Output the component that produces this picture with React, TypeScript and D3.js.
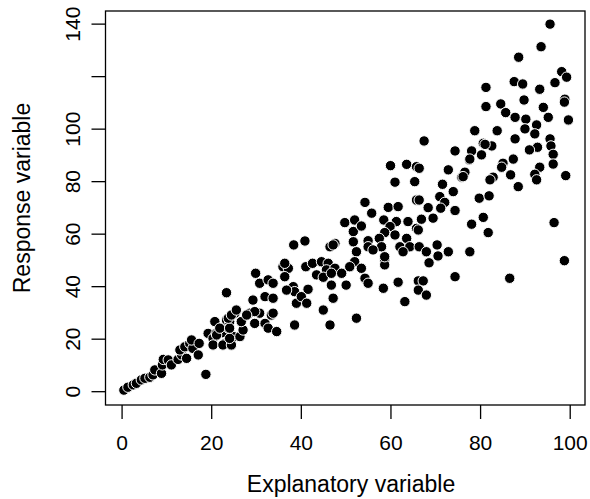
import React from "react";
import * as d3 from "d3";

// Explanatory (x) and response (y) values
const explanatory: number[] = [
  0.4, 1.3, 2.5, 3.2, 4.3, 5.1, 6.2, 6.9, 7.3, 8.8, 9.0, 9.2, 10.3, 11.0, 12.5, 13.3, 12.9, 14.4, 14.0, 15.1,
  15.8, 15.5, 17.0, 17.2, 18.7, 19.2, 20.3, 21.0, 22.4, 22.9, 23.7, 24.8, 23.3, 24.0, 25.2,
  20.3, 22.5, 24.4, 21.1, 24.0, 26.3, 20.7, 21.8, 24.0, 27.0, 26.6, 29.6, 31.9, 32.6, 34.5, 23.7, 24.4, 25.5,
  28.5, 30.7, 33.3, 29.2, 31.9, 33.7, 23.3, 29.8, 30.7, 32.6, 33.7, 35.9, 37.1, 36.3, 38.2, 38.5, 38.9, 38.5, 38.3,
  49.7, 51.9, 51.6, 51.6, 40.8, 47.5, 46.4, 52.3, 51.9, 36.3, 41.0, 42.5, 44.5, 46.0, 45.6, 47.5, 43.4, 44.9,
  46.7, 49.0, 50.8, 46.7, 50.0, 36.7, 41.5, 40.0, 41.2, 47.1, 44.9, 29.6, 33.7, 27.8, 46.4, 52.3,
  59.9, 63.5, 65.7, 60.9, 65.3, 54.2, 55.7, 59.4, 61.6, 65.7, 53.4, 58.4, 61.2, 63.8, 65.7, 59.8, 58.6, 60.9,
  63.5, 57.4, 54.9, 47.1, 54.9, 57.9, 62.0, 64.2, 56.0, 62.7, 58.6, 53.4, 58.6, 54.2, 54.9, 58.3, 61.6, 66.1, 63.1,
  81.2, 78.7, 67.4, 74.3, 78.0, 80.6, 80.2, 77.5, 66.3, 72.8, 76.5, 75.8, 71.5, 73.9, 70.9, 72.0, 66.3, 68.3,
  71.1, 74.3, 69.4, 66.8, 79.7, 80.6, 78.0, 81.7, 66.1, 66.3, 67.9, 70.3, 70.5, 72.8, 68.5, 58.6, 77.6, 74.3,
  67.2, 66.1, 67.9,
  95.5, 93.5, 88.5, 98.1, 99.2, 96.6, 87.5, 89.4, 93.2, 81.2, 84.5, 89.7, 94.0, 98.8, 98.7, 85.6, 87.7, 90.1,
  95.1, 99.6, 92.5, 89.9, 92.1, 83.7, 87.7, 95.5, 95.7, 96.2, 96.2, 92.7, 90.9, 93.2, 92.1, 92.5, 87.3, 85.0,
  84.7, 86.7, 88.4, 82.8, 82.1, 82.5, 81.0, 77.6, 76.1, 99.0, 81.9, 96.4, 98.7, 86.5,
];

const response: number[] = [
  0.6, 1.7, 2.6, 3.2, 4.5, 5.1, 5.5, 6.4, 8.3, 7.0, 10.2, 12.3, 12.1, 10.2, 12.3, 14.0, 15.9, 12.7, 17.1, 18.4,
  16.5, 19.7, 14.0, 18.4, 6.6, 22.2, 20.3, 22.2, 22.5, 18.4, 24.2, 21.0, 27.3, 26.7, 29.9,
  17.8, 17.8, 17.8, 21.6, 20.3, 21.0, 26.7, 24.2, 24.2, 23.5, 26.7, 26.0, 26.0, 24.2, 22.9, 28.0, 29.2, 31.1,
  29.9, 29.9, 29.2, 34.9, 36.2, 35.6, 37.7, 45.1, 41.3, 42.6, 41.3, 47.6, 47.0, 43.8, 40.0, 38.1, 33.7, 25.4, 55.9,
  64.4, 65.4, 61.0, 57.1, 57.4, 56.5, 55.2, 53.3, 49.5, 48.9, 47.6, 48.9, 49.5, 48.9, 46.4, 47.0, 44.5, 43.6,
  45.1, 45.1, 47.6, 40.6, 40.6, 38.7, 39.0, 36.2, 33.7, 35.6, 31.1, 30.5, 29.9, 29.2, 25.4, 28.0,
  86.1, 86.6, 85.7, 79.8, 80.0, 72.1, 68.0, 70.2, 70.5, 73.0, 63.1, 65.4, 64.8, 64.8, 62.2, 62.9, 60.6, 59.7,
  58.4, 58.4, 57.5, 55.9, 55.2, 55.2, 55.2, 55.2, 54.0, 53.3, 50.2, 47.0, 48.3, 43.2, 41.3, 39.4, 41.7, 42.2, 34.3,
  108.6, 99.4, 95.5, 91.7, 91.7, 94.6, 90.2, 88.3, 85.1, 84.5, 83.6, 81.7, 79.0, 76.2, 74.3, 72.1, 73.0, 70.1,
  69.9, 69.0, 66.1, 65.7, 73.7, 66.4, 63.8, 60.6, 61.6, 55.2, 53.3, 55.9, 51.7, 53.3, 49.1, 51.4, 53.3, 43.8,
  42.2, 38.7, 36.8,
  140.0, 131.4, 127.4, 121.9, 119.8, 117.7, 118.1, 117.2, 115.2, 115.9, 109.6, 111.1, 108.3, 111.4, 110.3, 106.3, 104.5, 103.8,
  104.5, 103.5, 101.6, 100.1, 98.2, 99.4, 96.3, 96.3, 93.6, 90.4, 86.7, 93.1, 92.1, 85.5, 82.8, 80.7, 88.6, 87.0,
  85.5, 82.6, 78.1, 81.7, 80.7, 93.6, 94.2, 88.6, 81.9, 82.3, 74.6, 64.4, 49.9, 43.2,
];

const xTicks: number[] = [0, 20, 40, 60, 80, 100];
const yTicks: number[] = [0, 20, 40, 60, 80, 100, 120, 140];
const yTickLabels: string[] = ["0", "20", "40", "60", "80", "100", "", "140"];
const xTitle = "Explanatory variable";
const yTitle = "Response variable";

export default function App() {
  const W = 590, H = 499;
  const left = 105.5, right = 585, top = 11, bottom = 405;
  const x = d3.scaleLinear().domain([-3.7, 103.3]).range([left, right]);
  const y = d3.scaleLinear().domain([-5.07, 145]).range([bottom, top]);
  const font = "Liberation Sans, Arial, Helvetica, sans-serif";
  const fs = 21;
  const fsTitle = 23;
  const tick = 14;
  const pts = explanatory.map((v, i) => [v, response[i]] as [number, number]);

  return (
    <svg width={W} height={H} style={{ position: "absolute", left: 0, top: 0, background: "#fff" }}
      fontFamily={font}>
      <rect x={0} y={0} width={W} height={H} fill="#fff" />
      {pts.map(([a, b], i) => (
        <circle key={i} cx={x(a)} cy={y(b)} r={5.2} fill="#000" stroke="#fff" strokeWidth={1} />
      ))}
      <rect x={left} y={top} width={right - left} height={bottom - top} fill="none" stroke="#000" strokeWidth={1.3} />
      {xTicks.map((t) => (
        <g key={"x" + t}>
          <line x1={x(t)} x2={x(t)} y1={bottom} y2={bottom + tick} stroke="#000" strokeWidth={1.3} />
          <text x={x(t)} y={450} textAnchor="middle" fontSize={fs} fill="#000">{t}</text>
        </g>
      ))}
      {yTicks.map((t, i) => (
        <g key={"y" + t}>
          <line x1={left - tick} x2={left} y1={y(t)} y2={y(t)} stroke="#000" strokeWidth={1.3} />
          <text transform={`translate(80,${y(t)}) rotate(-90)`} textAnchor="middle" fontSize={fs} fill="#000">
            {yTickLabels[i]}
          </text>
        </g>
      ))}
      <text x={351} y={492} textAnchor="middle" fontSize={fsTitle} fill="#000">{xTitle}</text>
      <text transform={`translate(30,198) rotate(-90)`} textAnchor="middle" fontSize={fsTitle} fill="#000">{yTitle}</text>
    </svg>
  );
}
